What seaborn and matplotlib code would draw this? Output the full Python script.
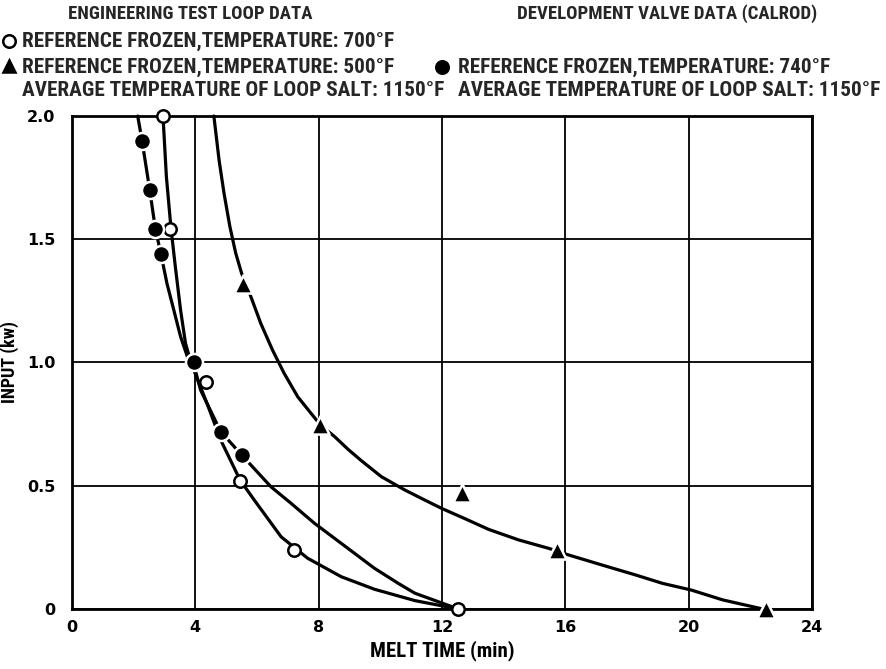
import matplotlib
matplotlib.use("Agg")
import matplotlib.pyplot as plt
from matplotlib.lines import Line2D
import seaborn as sns

# measured points (melt time in min, input in kw)
open_x = [2.95, 3.19, 4.36, 5.45, 7.21, 12.53]
open_y = [2.0, 1.54, 0.92, 0.52, 0.24, 0.0]

filled_x = [2.27, 2.52, 2.70, 2.89, 3.95, 4.82, 5.50]
filled_y = [1.90, 1.70, 1.54, 1.44, 1.00, 0.72, 0.625]

tri_x = [5.56, 8.05, 12.64, 15.73, 22.5]
tri_y = [1.32, 0.745, 0.47, 0.24, 0.0]

# faired curves
open_curve_x = [2.95, 3.06, 3.21, 3.35, 3.52, 3.68, 3.88, 4.01, 4.39, 4.82, 5.45, 5.91,
                6.78, 7.64, 8.73, 9.81, 11.12, 12.53]
open_curve_y = [2.0, 1.754, 1.544, 1.389, 1.213, 1.078, 0.99, 0.95, 0.83, 0.686, 0.523, 0.442,
                0.293, 0.206, 0.131, 0.08, 0.034, 0.0]

filled_curve_x = [2.13, 2.27, 2.52, 2.70, 2.89, 3.08, 3.30, 3.52, 3.74, 3.95, 4.17, 4.82,
                  5.50, 6.45, 7.10, 7.86, 8.51, 9.16, 9.81, 10.58, 11.12, 12.53]
filled_curve_y = [2.0, 1.90, 1.70, 1.544, 1.436, 1.32, 1.213, 1.105, 1.024, 0.99, 0.888, 0.72,
                  0.625, 0.496, 0.429, 0.348, 0.287, 0.226, 0.165, 0.104, 0.064, 0.0]

tri_curve_x = [4.60, 4.77, 4.93, 5.12, 5.31, 5.50, 5.78, 6.12, 6.50, 6.88, 7.32, 7.75,
               8.06, 8.51, 8.95, 9.38, 10.03, 10.79, 11.44, 11.99, 12.75, 13.51, 14.49,
               15.46, 16.11, 17.20, 18.28, 19.15, 20.08, 21.10, 22.40]
tri_curve_y = [2.0, 1.82, 1.686, 1.551, 1.443, 1.362, 1.274, 1.159, 1.051, 0.956, 0.861, 0.794,
               0.746, 0.70, 0.648, 0.602, 0.537, 0.483, 0.442, 0.408, 0.366, 0.323, 0.28,
               0.246, 0.219, 0.178, 0.138, 0.104, 0.077, 0.037, 0.0]

x_ticks = [0, 4, 8, 12, 16, 20, 24]
x_labels = ["0", "4", "8", "12", "16", "20", "24"]
y_ticks = [0, 0.5, 1.0, 1.5, 2.0]
y_labels = ["0", "0.5", "1.0", "1.5", "2.0"]

sns.set_theme(style="white")
plt.rcParams['font.family'] = ['Roboto Condensed', 'DejaVu Sans']

fig = plt.figure(figsize=(8.86, 6.69), dpi=100)
ax = fig.add_axes([0.0813, 0.0897, 0.8352, 0.7369])

lw = 2.3
for cx, cy in [(open_curve_x, open_curve_y), (filled_curve_x, filled_curve_y),
               (tri_curve_x, tri_curve_y)]:
    sns.lineplot(x=cx, y=cy, sort=False, estimator=None, color="black",
                 linewidth=lw, ax=ax, zorder=3, clip_on=False)

sns.scatterplot(x=open_x, y=open_y, marker="o", s=80, color="white",
                edgecolor="black", linewidth=1.8, ax=ax, zorder=5, clip_on=False)
sns.scatterplot(x=filled_x, y=filled_y, marker="o", s=150, color="black",
                edgecolor="white", linewidth=1.8, ax=ax, zorder=5, clip_on=False)
sns.scatterplot(x=tri_x, y=tri_y, marker="^", s=170, color="black",
                edgecolor="white", linewidth=1.8, ax=ax, zorder=5, clip_on=False)

ax.set_xlim(0, 24)
ax.set_ylim(0, 2.0)
ax.set_xticks(x_ticks)
ax.set_xticklabels(x_labels)
ax.set_yticks(y_ticks)
ax.set_yticklabels(y_labels)
ax.grid(True, color="black", linewidth=1.3)
ax.set_axisbelow(True)
for s in ax.spines.values():
    s.set_color("black")
    s.set_linewidth(2)
ax.tick_params(axis="x", length=0, pad=8, colors="black")
ax.tick_params(axis="y", length=0, pad=12, colors="black")
for lab in ax.get_xticklabels() + ax.get_yticklabels():
    lab.set_fontweight("bold")
    lab.set_family(['DejaVu Sans'])
    lab.set_fontsize(11.5)
ax.set_xlabel("MELT TIME (min)", fontsize=15, fontweight="bold", labelpad=4, color="black")
ax.set_ylabel("INPUT (kw)", fontsize=13, fontweight="bold", labelpad=6, color="black")

# header block
fig.text(190 / 886, 1 - 14 / 669, "ENGINEERING TEST LOOP DATA", ha="center", va="center",
         fontsize=13.5, fontweight="bold")
fig.text(667 / 886, 1 - 14 / 669, "DEVELOPMENT VALVE DATA (CALROD)", ha="center", va="center",
         fontsize=13.5, fontweight="bold")
rows = [
    (22, 41, "REFERENCE FROZEN,TEMPERATURE: 700°F"),
    (22, 67, "REFERENCE FROZEN,TEMPERATURE: 500°F"),
    (22, 91, "AVERAGE TEMPERATURE OF LOOP SALT: 1150°F"),
    (458, 67, "REFERENCE FROZEN,TEMPERATURE: 740°F"),
    (458, 91, "AVERAGE TEMPERATURE OF LOOP SALT: 1150°F"),
]
for px, py, t in rows:
    fig.text(px / 886, 1 - py / 669, t, ha="left", va="center", fontsize=15.3, fontweight="bold")

keys = [(9, 41, "o", "white"), (9, 66, "^", "black"), (442, 67, "o", "black")]
for px, py, m, fc in keys:
    fig.add_artist(Line2D([px / 886], [1 - py / 669], marker=m, markersize=9,
                          markerfacecolor=fc, markeredgecolor="black", markeredgewidth=1.8,
                          linestyle="none", transform=fig.transFigure))

fig.savefig("out.png", dpi=100, facecolor="white")
